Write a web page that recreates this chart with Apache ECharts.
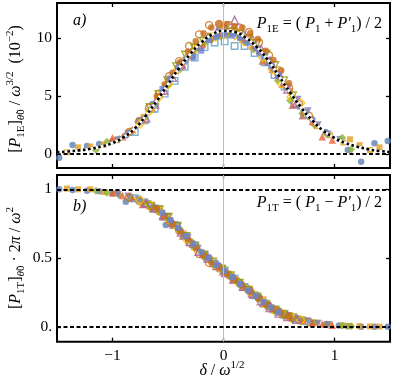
<!DOCTYPE html>
<html>
<head>
<meta charset="utf-8">
<script src="https://cdn.jsdelivr.net/npm/echarts@6/dist/echarts.min.js"></script>
<style>
  html, body { margin: 0; padding: 0; background: #fff; }
  #chart { width: 395px; height: 389px; }
</style>
</head>
<body>
<div id="chart"></div>
<script>
// tick positions
const xTicks = [-1, 0, 1]
const topTicks = [0, 5, 10]
const botTicks = [0, 0.5, 1]

// dotted reference curve of panel a)
const curveX = [-1.5, -1.4, -1.3, -1.2, -1.1, -1.0, -0.9, -0.8, -0.7, -0.6, -0.5, -0.4, -0.3, -0.2, -0.1, 0,
  0.1, 0.2, 0.3, 0.4, 0.5, 0.6, 0.7, 0.8, 0.9, 1.0, 1.1, 1.2, 1.3, 1.4, 1.5]
const curveTop = [0.15, 0.22, 0.32, 0.45, 0.65, 0.95, 1.45, 2.2, 3.3, 4.6, 6.0, 7.4, 8.6, 9.6, 10.3, 10.6,
  10.5, 10.0, 9.2, 8.1, 6.7, 5.3, 4.0, 2.9, 2.0, 1.4, 0.95, 0.65, 0.42, 0.27, 0.18]

// data sets (x = delta / omega^1/2, top = panel a, bot = panel b)
const s1X = [-1.48, -1.36, -1.23, -1.12, -1.0, -0.88, -0.76, -0.64, -0.52, -0.40, -0.28, -0.16, -0.04, 0.08, 0.20, 0.32, 0.44, 0.56, 0.68, 0.80, 0.92, 1.04, 1.12, 1.24, 1.36, 1.48]
const s1Top = [-0.32, 0.78, 0.69, 0.86, 1.1, 1.6, 2.9, 4.3, 5.9, 7.8, 8.8, 9.9, 10.6, 10.4, 9.6, 8.7, 7.5, 5.8, 4.1, 3.0, 1.9, 1.3, 0.34, -0.66, 0.92, 1.12]
const s1Bot = [1.0, 0.995, 0.99, 0.985, 0.97, 0.91, 0.92, 0.87, 0.74, 0.71, 0.61, 0.51, 0.44, 0.36, 0.29, 0.21, 0.14, 0.09, 0.055, 0.03, 0.015, 0.01, 0.005, 0.0, 0.0, 0.0]

const s2X = [-1.41, -1.31, -1.20, -1.08, -0.96, -0.84, -0.72, -0.60, -0.48, -0.36, -0.24, -0.12, 0.0, 0.12, 0.24, 0.36, 0.48, 0.60, 0.72, 0.84, 0.96, 1.08, 1.14, 1.225, 1.32, 1.405]
const s2Top = [0.15, 0.58, 0.65, 0.8, 1.2, 1.9, 3.2, 4.8, 6.5, 7.9, 9.3, 10.2, 10.9, 10.6, 9.9, 8.8, 7.0, 5.4, 3.6, 2.4, 1.6, 1.0, 1.27, 0.77, 0.34, 0.58]
const s2Bot = [1.005, 1.0, 1.0, 0.98, 0.97, 0.945, 0.9, 0.85, 0.77, 0.68, 0.58, 0.49, 0.42, 0.34, 0.27, 0.2, 0.13, 0.085, 0.055, 0.03, 0.018, 0.01, 0.006, 0.005, 0.003, 0.002]

const s3X = [-1.15, -1.05, -0.94, -0.83, -0.72, -0.61, -0.50, -0.39, -0.28, -0.17, -0.06, 0.05, 0.16, 0.27, 0.38, 0.49, 0.60, 0.71, 0.82, 0.93, 1.07, 1.15]
const s3Top = [0.35, 1.06, 1.3, 2.0, 3.0, 4.3, 5.9, 7.3, 8.4, 9.5, 10.1, 10.3, 10.0, 9.0, 7.9, 6.3, 4.6, 3.5, 2.5, 1.7, 1.41, 0.4]
const s3Bot = [0.99, 0.975, 0.96, 0.93, 0.9, 0.855, 0.79, 0.705, 0.615, 0.53, 0.455, 0.38, 0.31, 0.235, 0.165, 0.11, 0.075, 0.05, 0.03, 0.018, 0.01, 0.005]

const s4X = [-1.0, -0.91, -0.82, -0.73, -0.64, -0.55, -0.46, -0.37, -0.28, -0.19, -0.10, -0.01, 0.08, 0.17, 0.26, 0.35, 0.44, 0.53, 0.62, 0.71, 0.80, 0.89, 0.98]
const s4Top = [1.4, 1.5, 2.1, 3.0, 3.9, 5.4, 6.8, 7.7, 8.9, 9.4, 10.1, 10.4, 10.6, 9.9, 9.3, 8.0, 7.3, 6.0, 4.2, 3.3, 2.8, 1.5, 1.2]
const s4Bot = [0.975, 0.955, 0.935, 0.89, 0.86, 0.8, 0.74, 0.66, 0.6, 0.53, 0.46, 0.4, 0.34, 0.29, 0.23, 0.17, 0.13, 0.09, 0.065, 0.045, 0.03, 0.02, 0.012]

const s5X = [-0.95, -0.86, -0.77, -0.68, -0.59, -0.50, -0.41, -0.32, -0.23, -0.14, -0.05, 0.04, 0.13, 0.22, 0.31, 0.40, 0.49, 0.58, 0.67, 0.76, 0.85, 0.94]
const s5Top = [1.2, 1.75, 2.5, 3.6, 4.7, 6.2, 7.1, 8.3, 9.0, 9.8, 10.1, 10.2, 10.0, 9.6, 9.0, 8.0, 6.6, 5.6, 4.7, 3.7, 2.5, 1.7]
const s5Bot = [0.96, 0.95, 0.925, 0.895, 0.855, 0.8, 0.73, 0.65, 0.57, 0.5, 0.44, 0.38, 0.32, 0.27, 0.21, 0.155, 0.11, 0.08, 0.055, 0.04, 0.025, 0.015]

const s6X = [-0.85, -0.76, -0.67, -0.58, -0.49, -0.40, -0.31, -0.22, -0.13, -0.04, 0.05, 0.14, 0.23, 0.32, 0.41, 0.50, 0.59, 0.68, 0.77]
const s6Top = [1.9, 2.8, 4.0, 5.2, 6.7, 8.0, 9.3, 10.3, 11.1, 11.2, 11.1, 10.9, 10.5, 9.6, 8.5, 7.2, 5.7, 4.3, 3.3]
const s6Bot = [0.94, 0.915, 0.88, 0.84, 0.77, 0.7, 0.615, 0.53, 0.465, 0.425, 0.375, 0.32, 0.27, 0.21, 0.15, 0.11, 0.075, 0.05, 0.035]

const s7X = [-0.8, -0.71, -0.62, -0.53, -0.44, -0.35, -0.26, -0.17, -0.08, 0.01, 0.10, 0.19, 0.28, 0.37, 0.46, 0.55, 0.64, 0.73]
const s7Top = [1.9, 2.9, 3.9, 5.2, 6.3, 7.5, 8.3, 9.2, 9.6, 9.7, 9.3, 9.3, 8.7, 7.9, 6.8, 5.8, 4.3, 3.4]
const s7Bot = [0.935, 0.905, 0.86, 0.8, 0.74, 0.66, 0.59, 0.52, 0.46, 0.41, 0.35, 0.29, 0.23, 0.17, 0.125, 0.085, 0.06, 0.04]

const s8X = [-0.75, -0.665, -0.58, -0.495, -0.41, -0.325, -0.24, -0.155, -0.07, 0.015, 0.10, 0.185, 0.27, 0.355, 0.44, 0.525, 0.61, 0.695]
const s8Top = [2.6, 3.7, 4.9, 6.0, 7.3, 8.3, 9.1, 9.8, 10.1, 10.3, 10.2, 9.7, 9.2, 8.3, 7.3, 6.0, 4.9, 4.4]
const s8Bot = [0.92, 0.885, 0.845, 0.78, 0.715, 0.63, 0.56, 0.5, 0.445, 0.4, 0.345, 0.29, 0.24, 0.18, 0.13, 0.095, 0.065, 0.048]

const s9X = [-0.7, -0.62, -0.54, -0.46, -0.38, -0.30, -0.22, -0.14, -0.06, 0.02, 0.10, 0.18, 0.26, 0.34, 0.42, 0.50, 0.58, 0.66]
const s9Top = [3.1, 4.3, 5.5, 6.6, 7.7, 8.6, 9.3, 10.0, 10.5, 10.8, 11.5, 10.3, 9.9, 9.0, 8.0, 6.9, 5.6, 4.4]
const s9Bot = [0.9, 0.865, 0.815, 0.76, 0.69, 0.62, 0.55, 0.5, 0.445, 0.395, 0.35, 0.295, 0.245, 0.19, 0.14, 0.1, 0.075, 0.055]

const s10X = [-0.66, -0.58, -0.5, -0.42, -0.34, -0.26, -0.18, -0.10, -0.02, 0.06, 0.14, 0.22, 0.30, 0.38, 0.46, 0.54, 0.62]
const s10Top = [4.0, 5.1, 6.3, 7.5, 8.5, 9.1, 9.7, 10.0, 10.2, 10.5, 10.3, 9.9, 9.5, 8.6, 7.6, 6.3, 5.0]
const s10Bot = [0.875, 0.85, 0.795, 0.73, 0.655, 0.585, 0.52, 0.47, 0.42, 0.37, 0.315, 0.265, 0.215, 0.16, 0.12, 0.09, 0.065]

const s11X = [-0.6, -0.53, -0.46, -0.39, -0.32, -0.25, -0.18, -0.11, -0.04, 0.03, 0.10, 0.17, 0.24, 0.31, 0.38, 0.45, 0.52, 0.59]
const s11Top = [5.0, 6.0, 7.0, 7.9, 8.8, 9.7, 10.4, 10.9, 11.2, 11.2, 11.0, 10.9, 10.4, 9.9, 8.9, 8.1, 7.2, 6.1]
const s11Bot = [0.86, 0.805, 0.75, 0.695, 0.635, 0.575, 0.52, 0.47, 0.43, 0.39, 0.345, 0.3, 0.255, 0.21, 0.165, 0.13, 0.1, 0.075]

const s12X = [-0.55, -0.48, -0.41, -0.34, -0.27, -0.20, -0.13, -0.06, 0.01, 0.08, 0.15, 0.22, 0.29, 0.36, 0.43, 0.50]
const s12Top = [5.6, 6.5, 7.4, 8.1, 8.3, 8.9, 9.8, 10.1, 10.3, 10.2, 10.0, 9.6, 9.1, 8.5, 7.6, 6.8]
const s12Bot = [0.83, 0.775, 0.72, 0.66, 0.6, 0.545, 0.5, 0.45, 0.405, 0.36, 0.31, 0.265, 0.225, 0.18, 0.14, 0.105]

const serif = 'Liberation Serif'

// colour, marker, open?, data
const sets = [
  ['#5E81B5', 'circle', false, s1X, s1Top, s1Bot],
  ['#E19C24', 'rect', false, s2X, s2Top, s2Bot],
  ['#8FB032', 'diamond', false, s3X, s3Top, s3Bot],
  ['#EB6235', 'up', false, s4X, s4Top, s4Bot],
  ['#8778B3', 'down', false, s5X, s5Top, s5Bot],
  ['#C56E1A', 'circle', true, s6X, s6Top, s6Bot],
  ['#5D9EC7', 'rect', true, s7X, s7Top, s7Bot],
  ['#FFBF00', 'diamond', true, s8X, s8Top, s8Bot],
  ['#A5609D', 'up', true, s9X, s9Top, s9Bot],
  ['#929600', 'down', true, s10X, s10Top, s10Bot],
  ['#C56E1A', 'circle', false, s11X, s11Top, s11Bot],
  ['#6685D9', 'rect', false, s12X, s12Top, s12Bot]
]

const sizes = { circle: 6.5, rect: 6, diamond: 8, up: 7.5, down: 7.5 }

function scatter (set, panel) {
  const [color, mark, open, xs, top, bot] = set
  const ys = panel === 0 ? top : bot
  return {
    type: 'scatter',
    xAxisIndex: panel * 2,
    yAxisIndex: panel * 2,
    symbol: mark === 'rect' ? 'rect' : mark === 'circle' ? 'circle' : mark === 'diamond' ? 'diamond' : 'triangle',
    symbolRotate: mark === 'down' ? 180 : 0,
    symbolSize: sizes[mark] + (open ? 0.5 : 0),
    itemStyle: open
      ? { color: 'rgba(255,255,255,0)', borderColor: color, borderWidth: 1.4 }
      : { color: color },
    emphasis: { disabled: true },
    silent: true,
    z: 3,
    data: xs.map((x, i) => [x, ys[i]])
  }
}

function xAxis (grid, pos, labels) {
  return {
    type: 'value', gridIndex: grid, position: pos, min: -1.5, max: 1.5,
    axisLine: { show: false, onZero: false }, splitLine: { show: false },
    axisTick: { show: true, inside: true, length: 4, customValues: xTicks, lineStyle: { color: '#000', width: 1.3 } },
    axisLabel: {
      show: labels, customValues: xTicks, margin: 6, color: '#000', fontFamily: serif, fontSize: 15.5,
      formatter: v => (v < 0 ? '\u2212' + Math.abs(v) : String(v))
    }
  }
}

function yAxis (grid, pos, min, max, ticks, labels, fmt) {
  return {
    type: 'value', gridIndex: grid, position: pos, min: min, max: max,
    axisLine: { show: false, onZero: false }, splitLine: { show: false },
    axisTick: { show: true, inside: true, length: 4, customValues: ticks, lineStyle: { color: '#000', width: 1.3 } },
    axisLabel: { show: labels, customValues: ticks, margin: 5, color: '#000', fontFamily: serif, fontSize: 15.5, formatter: fmt }
  }
}

const rich = {
  n: { fontFamily: serif, fontSize: 16, lineHeight: 22, color: '#000' },
  i: { fontFamily: serif, fontStyle: 'italic', fontSize: 16, lineHeight: 22, color: '#000' },
  s: { fontFamily: serif, fontSize: 11, lineHeight: 13, verticalAlign: 'bottom', color: '#000' },
  si: { fontFamily: serif, fontStyle: 'italic', fontSize: 11, lineHeight: 13, verticalAlign: 'bottom', color: '#000' },
  p: { fontFamily: serif, fontSize: 11, lineHeight: 13, verticalAlign: 'top', color: '#000' }
}

function label (text, x, y, align, rot) {
  return {
    type: 'text', x: x, y: y, rotation: rot || 0, silent: true, z: 10,
    style: { text: text, rich: rich, align: align, verticalAlign: 'middle' }
  }
}

const dashed = { color: '#000', width: 1.8, type: [4, 2.5] }

const series = [
  // grey line at delta = 0, below the points
  {
    type: 'line', xAxisIndex: 0, yAxisIndex: 0, data: [], z: 1,
    markLine: { silent: true, symbol: ['none', 'none'], label: { show: false }, lineStyle: { color: '#bdbdbd', width: 1, type: 'solid' }, data: [{ xAxis: 0 }] }
  },
  {
    type: 'line', xAxisIndex: 2, yAxisIndex: 2, data: [], z: 1,
    markLine: { silent: true, symbol: ['none', 'none'], label: { show: false }, lineStyle: { color: '#bdbdbd', width: 1, type: 'solid' }, data: [{ xAxis: 0 }] }
  }
]
sets.forEach(s => series.push(scatter(s, 0)))
sets.forEach(s => series.push(scatter(s, 1)))
series.push({
  type: 'line', xAxisIndex: 0, yAxisIndex: 0, smooth: true, showSymbol: false, z: 5, silent: true,
  lineStyle: { color: '#fff', width: 2.6 },
  data: curveX.map((x, i) => [x, curveTop[i]])
})
series.push({
  type: 'line', xAxisIndex: 0, yAxisIndex: 0, smooth: true, showSymbol: false, z: 6, silent: true,
  lineStyle: { color: '#000', width: 2.6, type: [2.6, 2.6] },
  data: curveX.map((x, i) => [x, curveTop[i]]),
  markLine: { silent: true, symbol: ['none', 'none'], label: { show: false }, lineStyle: dashed, data: [{ yAxis: 0 }] }
})
series.push({
  type: 'line', xAxisIndex: 2, yAxisIndex: 2, data: [], z: 6,
  markLine: { silent: true, symbol: ['none', 'none'], label: { show: false }, lineStyle: dashed, data: [{ yAxis: 0 }, { yAxis: 1 }] }
})

const chart = echarts.init(document.getElementById('chart'))
chart.setOption({
  animation: false,
  backgroundColor: '#fff',
  grid: [
    { left: 57, top: 3, width: 333, height: 165, show: true, borderColor: '#000', borderWidth: 2, backgroundColor: 'transparent' },
    { left: 57, top: 175, width: 333, height: 166.7, show: true, borderColor: '#000', borderWidth: 2, backgroundColor: 'transparent' }
  ],
  xAxis: [
    xAxis(0, 'bottom', false),
    xAxis(0, 'top', false),
    xAxis(1, 'bottom', true),
    xAxis(1, 'top', false)
  ],
  yAxis: [
    yAxis(0, 'left', -1.2, 13, topTicks, true, v => String(v)),
    yAxis(0, 'right', -1.2, 13, topTicks, false),
    yAxis(1, 'left', -0.108, 1.104, botTicks, true, v => (v === 0 ? '0.' : String(v))),
    yAxis(1, 'right', -0.108, 1.104, botTicks, false)
  ],
  series: series,
  graphic: [
    label('{i|a)}', 73, 21, 'left'),
    label('{i|b)}', 73, 207, 'left'),
    label('{i|P}{s|1E}{n| = ( }{i|P}{s|1}{n| + }{i|P\u2032}{s|1}{n|) / 2}', 382, 24, 'right'),
    label('{i|P}{s|1T}{n| = ( }{i|P}{s|1}{n| \u2212 }{i|P\u2032}{s|1}{n|) / 2}', 382, 203, 'right'),
    label('{n|[}{i|P}{s|1E}{n|]}{si|\u03b8\u0303}{s|0}{n| / }{i|\u03c9}{p|3/2}{n|  (10}{p|\u22122}{n|)}', 16, 89, 'center', Math.PI / 2),
    label('{n|[}{i|P}{s|1T}{n|]}{si|\u03b8\u0303}{s|0}{n| \u00b7 2}{i|\u03c0}{n| / }{i|\u03c9}{p|2}', 16, 258, 'center', Math.PI / 2),
    label('{i|\u03b4}{n| / }{i|\u03c9}{p|1/2}', 222, 371, 'center')
  ]
})
</script>
</body>
</html>
